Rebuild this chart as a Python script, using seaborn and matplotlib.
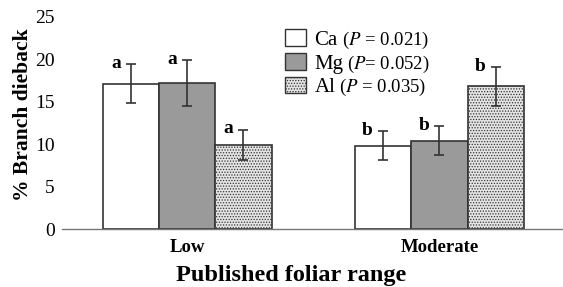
import numpy as np
import pandas as pd
import seaborn as sns
import matplotlib.pyplot as plt
from matplotlib.patches import Patch
from matplotlib.transforms import IdentityTransform

sns.set_theme(style="white")
plt.rcParams['font.family'] = ['Liberation Serif', 'DejaVu Serif']
plt.rcParams['mathtext.fontset'] = 'stix'
plt.rcParams['hatch.color'] = '#555555'
plt.rcParams['hatch.linewidth'] = 0.6
for key in ['text.color', 'axes.labelcolor', 'xtick.color', 'ytick.color']:
    plt.rcParams[key] = 'black'

ranges = ['Low', 'Moderate']
elements = ['Ca', 'Mg', 'Al']
p_labels = ['($\\mathit{P}$ = 0.021)', '($\\mathit{P}$= 0.052)', '($\\mathit{P}$ = 0.035)']
ca = [17.1, 9.8]
mg = [17.2, 10.4]
al = [9.9, 16.8]
ca_err = [2.3, 1.7]
mg_err = [2.7, 1.7]
al_err = [1.8, 2.3]
letters = {'Ca': ['a', 'b'], 'Mg': ['a', 'b'], 'Al': ['a', 'b']}

df = pd.DataFrame({
    'range': ranges * 3,
    'element': [e for e in elements for _ in ranges],
    'dieback': ca + mg + al,
    'err': ca_err + mg_err + al_err,
})

colors = {'Ca': '#ffffff', 'Mg': '#9a9a9a', 'Al': '#e4e4e4'}
hatches = {'Ca': '', 'Mg': '', 'Al': '......'}

fig = plt.figure(figsize=(5.63, 2.87), dpi=100)
ax = fig.add_axes([0.110, 0.202, 0.890, 0.739])

sns.barplot(data=df, x='range', y='dieback', hue='element', hue_order=elements,
            order=ranges, palette=colors, errorbar=None, width=0.67,
            edgecolor='#333333', linewidth=1.2, legend=False, ax=ax)

for el, cont in zip(elements, ax.containers):
    sub = df[df.element == el].set_index('range').loc[ranges]
    for bar, (_, row), lab in zip(cont, sub.iterrows(), letters[el]):
        bar.set_hatch(hatches[el])
        cx = bar.get_x() + bar.get_width() / 2
        ax.errorbar(cx, row.dieback, yerr=row.err, color='#333333',
                    capsize=3.5, elinewidth=1.2, capthick=1.2)
        ax.text(cx - 0.04, row.dieback + row.err + 0.1, lab, ha='right',
                va='center', fontsize=14, fontweight='bold')

ax.set_xlim(-0.496, 1.49)
ax.set_ylim(0, 25)
ax.set_yticks([0, 5, 10, 15, 20, 25])
ax.tick_params(axis='y', labelsize=14, length=0, pad=5)
ax.tick_params(axis='x', length=0, pad=7)
for t in ax.get_xticklabels():
    t.set_fontweight('bold')
    t.set_fontsize(13.5)
sns.despine(ax=ax, left=True)
ax.spines['bottom'].set_color('#777777')
ax.spines['bottom'].set_linewidth(1.0)
ax.set_xlabel('Published foliar range', fontsize=17.5, fontweight='bold')
ax.set_ylabel('% Branch dieback', fontsize=15.5, fontweight='bold')
ax.xaxis.set_label_coords(0.457, -0.17)
ax.yaxis.set_label_coords(-0.058, 0.538)

handles = [Patch(facecolor=colors[e], edgecolor='#333333', hatch=hatches[e], linewidth=1.0)
           for e in elements]
leg = ax.legend(handles, elements, loc='upper left', bbox_to_anchor=(0.425, 0.99),
                frameon=False, fontsize=15, handlelength=1.0, handleheight=0.85,
                handletextpad=0.4, labelspacing=0.15, borderpad=0)

# smaller P-value part next to each legend entry
fig.canvas.draw()
for txt, pl in zip(leg.get_texts(), p_labels):
    bb = txt.get_window_extent()
    base_y = txt.get_transform().transform(txt.get_position())[1]
    fig.text(bb.x1 + 4, base_y, pl, transform=IdentityTransform(),
             fontsize=13.5, ha='left', va='baseline')

fig.savefig('out.png', dpi=100)
